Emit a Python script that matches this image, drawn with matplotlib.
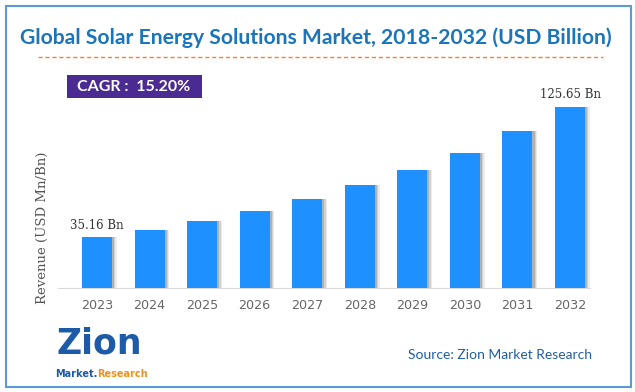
import numpy as np
import matplotlib
matplotlib.use('Agg')
import matplotlib.pyplot as plt
from matplotlib.patches import Rectangle

# data
years = ['2023', '2024', '2025', '2026', '2027', '2028', '2029', '2030', '2031', '2032']
revenue = [35.16, 40.5, 46.7, 53.6, 61.5, 71.4, 82.0, 94.0, 109.0, 125.65]
first_label = '35.16 Bn'
last_label = '125.65 Bn'
title = 'Global Solar Energy Solutions Market, 2018-2032 (USD Billion)'
cagr = 'CAGR :  15.20%'
source = 'Source: Zion Market Research'

W, H = 635, 392
fig = plt.figure(figsize=(W / 100, H / 100), dpi=100)

def fx(px):
    return px / W

def fy(py):
    return 1 - py / H

# outer frame
fig.patches.append(Rectangle((fx(5.5), fy(386.5)), fx(625), (381 / H), transform=fig.transFigure,
                             fill=False, edgecolor='#5b9bd5', linewidth=1.5))

# title and dashed line
fig.text(fx(316), fy(38), title, ha='center', va='center', fontsize=15.2,
         fontweight='bold', color='#1b75bb', family='Lato')
fig.add_artist(plt.Line2D([fx(38), fx(603)], [fy(57), fy(57)], transform=fig.transFigure,
                          color='#f5842a', linestyle=(0, (3, 2)), linewidth=1.0))

# CAGR box
fig.patches.append(Rectangle((fx(67), fy(98)), fx(135), 23 / H, transform=fig.transFigure,
                             facecolor='#4b2a91', edgecolor='none'))
fig.text(fx(134), fy(87), cagr, ha='center', va='center', fontsize=11.5,
         fontweight='bold', color='white', family='Lato')

# bar axes
ax = fig.add_axes([fx(58), fy(288), fx(532), 188 / H])
x = np.arange(len(years))
bw = 0.57
# soft shadow
for k, a in enumerate([0.10, 0.15, 0.22]):
    off = 0.09 - k * 0.025
    ax.bar(x + off, revenue, width=bw, color='#404040', alpha=a, zorder=1)
ax.bar(x, revenue, width=bw, color='#1e90ff', zorder=3)

ax.set_xlim(-0.742, 9.38)
ax.set_ylim(0, 188 / 1.44)
ax.set_xticks(x)
ax.set_xticklabels(years, fontsize=9.2, color='#666666')
ax.tick_params(axis='x', length=0, pad=8)
ax.set_yticks([])
for s in ['top', 'right', 'left']:
    ax.spines[s].set_visible(False)
ax.spines['bottom'].set_color('#d9d9d9')
ax.set_facecolor('none')

ax.text(x[0], revenue[0] + 4, first_label, ha='center', va='bottom',
        fontsize=8.5, color='#333333', family='DejaVu Serif')
ax.text(x[-1], revenue[-1] + 4, last_label, ha='center', va='bottom',
        fontsize=8.5, color='#333333', family='DejaVu Serif')

fig.text(fx(42), fy(228), 'Revenue (USD Mn/Bn)', rotation=90, ha='center', va='center',
         fontsize=9.5, color='#555555', family='DejaVu Serif')

# logo
fig.text(fx(99), fy(344), 'Zion', ha='center', va='center', fontsize=25,
         fontweight='bold', color='#1d5aa8', family='DejaVu Sans')
fig.text(fx(97), fy(374), 'Market.', ha='right', va='center', fontsize=7,
         fontweight='bold', color='#1d5aa8', family='DejaVu Sans')
fig.text(fx(97), fy(374), 'Research', ha='left', va='center', fontsize=7,
         fontweight='bold', color='#f39019', family='DejaVu Sans')

# source
fig.text(fx(500), fy(355), source, ha='center', va='center', fontsize=10,
         color='#1f5fa6', family='Lato')

fig.savefig('out.png', dpi=100)
